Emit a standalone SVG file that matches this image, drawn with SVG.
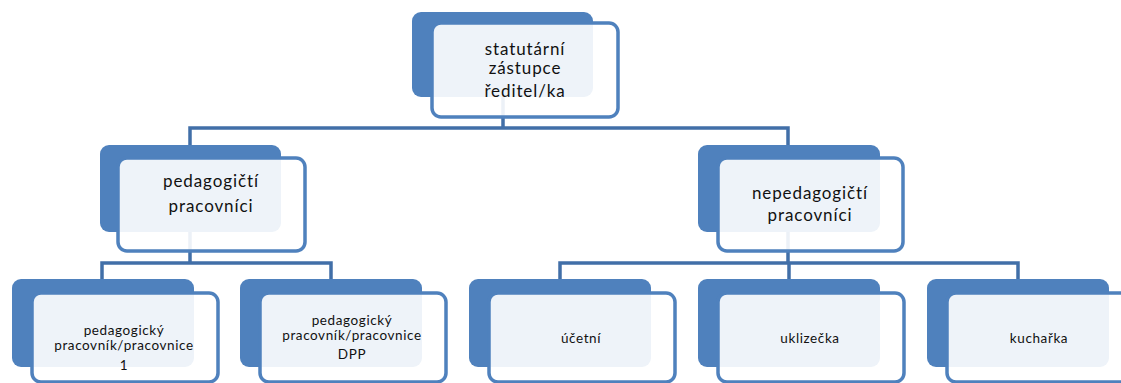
<svg xmlns="http://www.w3.org/2000/svg" width="1121" height="383" viewBox="0 0 1121 383">
<style>
.back{fill:#4f81bd;}
.front{fill:#ffffff;fill-opacity:0.9;stroke:#4f81bd;stroke-width:3.5;}
.conn{fill:none;stroke:#416fa8;stroke-width:3.5;}
.t1{font-family:Lato,"Open Sans","Liberation Sans",sans-serif;font-size:17px;fill:#111;text-anchor:middle;letter-spacing:0.9px;}
.t2{font-family:Lato,"Open Sans","Liberation Sans",sans-serif;font-size:13.5px;fill:#111;text-anchor:middle;letter-spacing:0.6px;}
</style>
<rect width="1121" height="383" fill="#ffffff"/>
<g id="connectors">
<path class="conn" d="M503,97 V128 M190,145 V128 H788 V145"/>
<path class="conn" d="M190,232 V263 M102,279 V263 H331 V279"/>
<path class="conn" d="M788,232 V263 M560,279 V263 H1018 V279 M789,263 V279"/>
</g>
<g id="n-statutar">
<rect class="back" x="412" y="12" width="181" height="85" rx="9"/>
<rect class="front" x="432" y="23" width="186" height="94" rx="9"/>
<text class="t1" x="525" y="55">statutární</text>
<text class="t1" x="525" y="74">zástupce</text>
<text class="t1" x="525" y="97">ředitel/ka</text>
</g>
<g id="n-pedagogicti">
<rect class="back" x="100" y="145" width="181" height="87" rx="9"/>
<rect class="front" x="118" y="158" width="187" height="93" rx="9"/>
<text class="t1" x="211" y="187">pedagogičtí</text>
<text class="t1" x="211" y="212">pracovníci</text>
</g>
<g id="n-nepedagogicti">
<rect class="back" x="698" y="145" width="182" height="87" rx="9"/>
<rect class="front" x="718" y="158" width="185" height="93" rx="9"/>
<text class="t1" x="810" y="199">nepedagogičtí</text>
<text class="t1" x="810" y="221">pracovníci</text>
</g>
<g id="n-ped1">
<rect class="back" x="12" y="279" width="182" height="88" rx="9"/>
<rect class="front" x="32" y="293" width="186" height="89" rx="9"/>
<text class="t2" x="124" y="335">pedagogický</text>
<text class="t2" x="124" y="350">pracovník/pracovnice</text>
<text class="t2" x="124" y="370">1</text>
</g>
<g id="n-dpp">
<rect class="back" x="240" y="279" width="182" height="88" rx="9"/>
<rect class="front" x="260" y="293" width="186" height="89" rx="9"/>
<text class="t2" x="352" y="325">pedagogický</text>
<text class="t2" x="352" y="340">pracovník/pracovnice</text>
<text class="t2" x="352" y="359">DPP</text>
</g>
<g id="n-ucetni">
<rect class="back" x="469" y="279" width="182" height="88" rx="9"/>
<rect class="front" x="489" y="293" width="186" height="89" rx="9"/>
<text class="t2" x="581" y="343">účetní</text>
</g>
<g id="n-uklizecka">
<rect class="back" x="698" y="279" width="182" height="88" rx="9"/>
<rect class="front" x="718" y="293" width="186" height="89" rx="9"/>
<text class="t2" x="810" y="343">uklizečka</text>
</g>
<g id="n-kucharka">
<rect class="back" x="927" y="279" width="182" height="88" rx="9"/>
<rect class="front" x="947" y="293" width="186" height="89" rx="9"/>
<text class="t2" x="1039" y="343">kuchařka</text>
</g>
</svg>
